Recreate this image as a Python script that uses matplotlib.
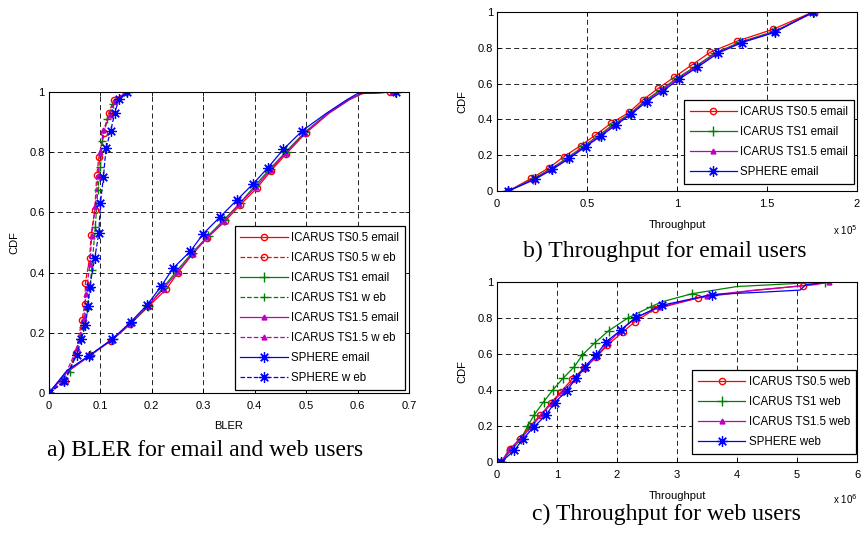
import matplotlib
matplotlib.use("Agg")
import matplotlib.pyplot as plt

plt.rcParams['font.family'] = ['Liberation Sans', 'DejaVu Sans']
plt.rcParams['font.size'] = 8

# ---- a) BLER, email (solid) and web (dashed) ----
bler_ts05_email_x = [0, 0.035, 0.08, 0.121, 0.158, 0.194, 0.228, 0.251, 0.279, 0.307, 0.342, 0.372, 0.404, 0.432, 0.461, 0.499, 0.545, 0.585, 0.61, 0.663]
bler_ts05_email_y = [0, 0.07, 0.125, 0.174, 0.229, 0.288, 0.345, 0.400, 0.462, 0.514, 0.570, 0.625, 0.680, 0.739, 0.794, 0.863, 0.93, 0.975, 0.995, 1.0]
bler_ts1_email_x = [0, 0.035, 0.08, 0.125, 0.16, 0.193, 0.222, 0.248, 0.278, 0.31, 0.34, 0.372, 0.40, 0.43, 0.46, 0.497, 0.543, 0.583, 0.607, 0.672]
bler_ts1_email_y = [0, 0.07, 0.126, 0.18, 0.232, 0.29, 0.35, 0.405, 0.465, 0.523, 0.575, 0.632, 0.688, 0.745, 0.80, 0.866, 0.93, 0.975, 0.995, 1.0]
bler_ts15_email_x = [0, 0.035, 0.08, 0.122, 0.158, 0.192, 0.223, 0.25, 0.28, 0.308, 0.34, 0.37, 0.402, 0.431, 0.46, 0.498, 0.544, 0.584, 0.608, 0.668]
bler_ts15_email_y = [0, 0.07, 0.125, 0.177, 0.23, 0.289, 0.347, 0.402, 0.463, 0.518, 0.572, 0.628, 0.684, 0.742, 0.797, 0.865, 0.93, 0.975, 0.995, 1.0]
bler_sph_email_x = [0, 0.035, 0.078, 0.123, 0.159, 0.191, 0.218, 0.241, 0.275, 0.300, 0.332, 0.366, 0.397, 0.426, 0.456, 0.493, 0.54, 0.58, 0.60, 0.675]
bler_sph_email_y = [0, 0.075, 0.124, 0.179, 0.236, 0.293, 0.354, 0.414, 0.471, 0.529, 0.584, 0.642, 0.695, 0.749, 0.810, 0.872, 0.93, 0.975, 0.995, 1.0]
email_marks = [0, 2, 3, 4, 5, 6, 7, 8, 9, 10, 11, 12, 13, 14, 15, 19]

bler_ts05_web_x = [0, 0.032, 0.052, 0.064, 0.070, 0.071, 0.079, 0.082, 0.089, 0.093, 0.097, 0.107, 0.116, 0.126, 0.15, 0.17]
bler_ts05_web_y = [0, 0.039, 0.133, 0.241, 0.296, 0.367, 0.448, 0.525, 0.608, 0.725, 0.783, 0.865, 0.929, 0.973, 1.0, 1.0]
bler_ts1_web_x = [0, 0.04, 0.06, 0.066, 0.074, 0.08, 0.083, 0.09, 0.095, 0.1, 0.104, 0.113, 0.124, 0.15, 0.17]
bler_ts1_web_y = [0, 0.07, 0.18, 0.22, 0.28, 0.35, 0.41, 0.55, 0.675, 0.75, 0.837, 0.909, 0.96, 1.0, 1.0]
bler_ts15_web_x = [0, 0.025, 0.055, 0.068, 0.072, 0.08, 0.083, 0.09, 0.095, 0.1, 0.106, 0.118, 0.128, 0.15, 0.17]
bler_ts15_web_y = [0, 0.035, 0.15, 0.25, 0.33, 0.43, 0.52, 0.62, 0.72, 0.80, 0.875, 0.925, 0.97, 1.0, 1.0]
bler_sph_web_x = [0, 0.03, 0.054, 0.063, 0.071, 0.076, 0.079, 0.089, 0.097, 0.100, 0.106, 0.111, 0.120, 0.128, 0.136, 0.152, 0.17]
bler_sph_web_y = [0, 0.039, 0.127, 0.179, 0.227, 0.288, 0.352, 0.448, 0.531, 0.631, 0.719, 0.813, 0.871, 0.931, 0.976, 1.0, 1.0]

# ---- b) Throughput email users (x 1e5) ----
thr_e_ts05_x = [0.063, 0.191, 0.289, 0.371, 0.464, 0.547, 0.633, 0.733, 0.809, 0.896, 0.983, 1.082, 1.184, 1.336, 1.532, 1.755]
thr_e_ts05_y = [0, 0.071, 0.13, 0.192, 0.253, 0.313, 0.378, 0.439, 0.508, 0.574, 0.635, 0.704, 0.775, 0.838, 0.903, 1.0]
thr_e_ts1_x = [0.063, 0.2, 0.30, 0.39, 0.48, 0.565, 0.645, 0.74, 0.82, 0.91, 1.0, 1.1, 1.21, 1.35, 1.54, 1.76]
thr_e_ts1_y = [0, 0.068, 0.125, 0.185, 0.25, 0.31, 0.372, 0.433, 0.503, 0.567, 0.63, 0.695, 0.77, 0.832, 0.892, 1.0]
thr_e_ts15_x = [0.063, 0.205, 0.305, 0.395, 0.486, 0.57, 0.652, 0.742, 0.825, 0.915, 1.005, 1.105, 1.215, 1.355, 1.54, 1.765]
thr_e_ts15_y = [0, 0.067, 0.123, 0.184, 0.249, 0.309, 0.37, 0.431, 0.501, 0.564, 0.628, 0.693, 0.769, 0.83, 0.889, 1.0]
thr_e_sph_x = [0.063, 0.21, 0.308, 0.401, 0.492, 0.577, 0.66, 0.744, 0.831, 0.924, 1.013, 1.113, 1.226, 1.36, 1.542, 1.755]
thr_e_sph_y = [0, 0.065, 0.121, 0.182, 0.248, 0.307, 0.369, 0.428, 0.499, 0.561, 0.626, 0.691, 0.769, 0.829, 0.886, 1.0]

# ---- c) Throughput web users (x 1e6) ----
thr_w_ts05_x = [0.07, 0.22, 0.38, 0.55, 0.72, 0.9, 1.07, 1.25, 1.45, 1.65, 1.84, 2.1, 2.3, 2.63, 3.35, 4.2, 5.1, 5.54]
thr_w_ts05_y = [0, 0.07, 0.13, 0.2, 0.26, 0.33, 0.391, 0.46, 0.52, 0.581, 0.649, 0.723, 0.78, 0.849, 0.911, 0.95, 0.98, 1.0]
thr_w_ts1_x = [0.07, 0.24, 0.40, 0.51, 0.62, 0.78, 0.93, 1.10, 1.29, 1.42, 1.63, 1.86, 2.18, 2.56, 2.75, 3.25, 4.0, 5.46]
thr_w_ts1_y = [0, 0.068, 0.127, 0.2, 0.262, 0.336, 0.4, 0.465, 0.53, 0.594, 0.662, 0.729, 0.8, 0.862, 0.89, 0.935, 0.975, 1.0]
thr_w_ts15_x = [0.07, 0.2, 0.4, 0.58, 0.75, 0.92, 1.1, 1.3, 1.48, 1.66, 1.85, 2.05, 2.3, 2.7, 3.5, 4.3, 5.3, 5.54]
thr_w_ts15_y = [0, 0.07, 0.13, 0.2, 0.265, 0.33, 0.395, 0.46, 0.525, 0.59, 0.66, 0.73, 0.8, 0.86, 0.925, 0.955, 0.985, 1.0]
thr_w_sph_x = [0.07, 0.29, 0.43, 0.62, 0.82, 0.96, 1.17, 1.31, 1.46, 1.65, 1.82, 2.06, 2.32, 2.75, 3.58, 4.5, 5.05, 5.15, 5.51]
thr_w_sph_y = [0, 0.065, 0.127, 0.197, 0.262, 0.33, 0.397, 0.465, 0.53, 0.594, 0.668, 0.732, 0.803, 0.871, 0.93, 0.945, 0.955, 0.985, 1.0]

fig = plt.figure(figsize=(8.62, 5.34), dpi=100)
ax_a = fig.add_axes([0.0568, 0.2640, 0.4176, 0.5637])
ax_b = fig.add_axes([0.5766, 0.6423, 0.4176, 0.3352])
ax_c = fig.add_axes([0.5766, 0.1348, 0.4176, 0.3371])

lw = 0.9
ms = 4.5
star = (8, 2, 0)

def style(ax, xmax, xticks):
    ax.set_xlim(0, xmax)
    ax.set_ylim(0, 1)
    ax.set_xticks(xticks)
    ax.set_yticks([0, 0.2, 0.4, 0.6, 0.8, 1])
    ax.set_yticklabels(["0", "0.2", "0.4", "0.6", "0.8", "1"])
    ax.grid(True, color="black", linestyle=(0, (6, 4)), linewidth=0.6)
    ax.tick_params(direction="in", length=3, width=0.6, top=True, right=True, labelsize=8)
    ax.tick_params(axis="x", pad=6)
    ax.tick_params(axis="y", pad=3)
    for s in ax.spines.values():
        s.set_linewidth(0.8)
    ax.set_ylabel("CDF", fontsize=8, labelpad=7)

def legend(ax, anchor):
    lg = ax.legend(loc="lower right", bbox_to_anchor=anchor, borderaxespad=0, fontsize=8.3,
                   fancybox=False, edgecolor="black", framealpha=1, handlelength=4.1,
                   handletextpad=0.3, labelspacing=0.7, borderpad=0.5)
    lg.get_frame().set_linewidth(0.9)

# panel a
ax_a.plot(bler_ts05_email_x, bler_ts05_email_y, "-", color="r", lw=lw, marker="o", mfc="none", ms=ms, markevery=email_marks, label="ICARUS TS0.5 email")
ax_a.plot(bler_ts05_web_x, bler_ts05_web_y, "--", color="r", lw=lw, marker="o", mfc="none", ms=ms, markevery=list(range(14)), label="ICARUS TS0.5 w eb")
ax_a.plot(bler_ts1_email_x, bler_ts1_email_y, "-", color="g", lw=lw, marker="+", ms=ms + 2, markevery=email_marks, label="ICARUS TS1 email")
ax_a.plot(bler_ts1_web_x, bler_ts1_web_y, "--", color="g", lw=lw, marker="+", ms=ms + 1, markevery=list(range(14)), label="ICARUS TS1 w eb")
ax_a.plot(bler_ts15_email_x, bler_ts15_email_y, "-", color="m", lw=lw, marker="^", ms=ms - 1, markevery=email_marks, label="ICARUS TS1.5 email")
ax_a.plot(bler_ts15_web_x, bler_ts15_web_y, "--", color="m", lw=lw, marker="^", ms=ms - 1, markevery=list(range(14)), label="ICARUS TS1.5 w eb")
ax_a.plot(bler_sph_email_x, bler_sph_email_y, "-", color="b", lw=lw, marker=star, ms=ms + 3, mew=0.9, markevery=email_marks, label="SPHERE email")
ax_a.plot(bler_sph_web_x, bler_sph_web_y, "--", color="b", lw=lw, marker=star, ms=ms + 3, mew=0.9, markevery=list(range(16)), label="SPHERE w eb")
style(ax_a, 0.7, [0, 0.1, 0.2, 0.3, 0.4, 0.5, 0.6, 0.7])
ax_a.set_xticklabels(["0", "0.1", "0.2", "0.3", "0.4", "0.5", "0.6", "0.7"])
ax_a.set_xlabel("BLER", fontsize=8, labelpad=7)
legend(ax_a, (0.989, 0.01))

# panel b
ax_b.plot(thr_e_ts05_x, thr_e_ts05_y, "-", color="r", lw=lw, marker="o", mfc="none", ms=ms, label="ICARUS TS0.5 email")
ax_b.plot(thr_e_ts1_x, thr_e_ts1_y, "-", color="g", lw=lw, marker="+", ms=ms + 2, label="ICARUS TS1 email")
ax_b.plot(thr_e_ts15_x, thr_e_ts15_y, "-", color="m", lw=lw, marker="^", ms=ms - 1, label="ICARUS TS1.5 email")
ax_b.plot(thr_e_sph_x, thr_e_sph_y, "-", color="b", lw=lw, marker=star, ms=ms + 3, mew=0.9, label="SPHERE email")
style(ax_b, 2, [0, 0.5, 1, 1.5, 2])
ax_b.set_xticklabels(["0", "0.5", "1", "1.5", "2"])
ax_b.set_xlabel("Throughput", fontsize=8, labelpad=7.5)
ax_b.text(1.0, -39 / 179, "x 10$^5$", transform=ax_b.transAxes, ha="right", va="center", fontsize=7)
legend(ax_b, (0.992, 0.039))

# panel c
ax_c.plot(thr_w_ts05_x, thr_w_ts05_y, "-", color="r", lw=lw, marker="o", mfc="none", ms=ms, markevery=list(range(15)) + [16], label="ICARUS TS0.5 web")
ax_c.plot(thr_w_ts1_x, thr_w_ts1_y, "-", color="g", lw=lw, marker="+", ms=ms + 2, markevery=list(range(14)) + [15, 17], label="ICARUS TS1 web")
ax_c.plot(thr_w_ts15_x, thr_w_ts15_y, "-", color="m", lw=lw, marker="^", ms=ms - 1, markevery=list(range(15)) + [17], label="ICARUS TS1.5 web")
ax_c.plot(thr_w_sph_x, thr_w_sph_y, "-", color="b", lw=lw, marker=star, ms=ms + 3, mew=0.9, markevery=list(range(15)), label="SPHERE web")
style(ax_c, 6, [0, 1, 2, 3, 4, 5, 6])
ax_c.set_xlabel("Throughput", fontsize=8, labelpad=7.5)
ax_c.text(1.0, -37 / 180, "x 10$^6$", transform=ax_c.transAxes, ha="right", va="center", fontsize=7)
legend(ax_c, (0.997, 0.044))

# captions
cap = dict(family=["Liberation Serif", "DejaVu Serif"], fontsize=17, ha="center", va="center")
fig.text(205 / 862, 1 - 450 / 534, "a) BLER for email and web users", **cap)
fig.text(665 / 862, 1 - 251 / 534, "b) Throughput for email users", **cap)
fig.text(666 / 862, 1 - 514 / 534, "c) Throughput for web users", **cap)

fig.savefig("out.png", dpi=100)
